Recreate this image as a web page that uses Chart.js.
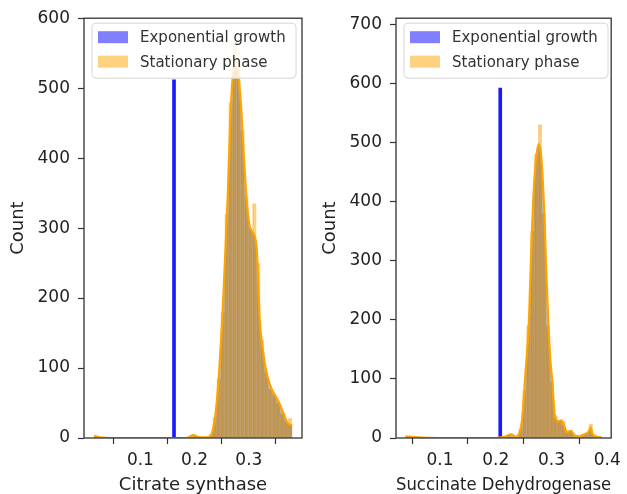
<!DOCTYPE html>
<html>
<head>
<meta charset="utf-8">
<script src="https://cdn.jsdelivr.net/npm/chart.js@4.4.1/dist/chart.umd.min.js"></script>
<style>
  body { margin: 0; background: #fff; }
  #wrap { position: relative; width: 627px; height: 494px; }
  canvas { position: absolute; left: 0; top: 0; }
</style>
</head>
<body>
<div id="wrap">
  <canvas id="citrate" width="627" height="494"></canvas>
  <canvas id="succinate" width="627" height="494"></canvas>
</div>
<script>
// legend entries
const seriesLabels = ['Exponential growth', 'Stationary phase'];

// Citrate synthase (left panel)
const csExpBins = [0.162];
const csExpCounts = [512];
const csStatBins = [0.0182, 0.2007, 0.2299, 0.2372, 0.2445, 0.2518, 0.2591, 0.2664, 0.2737, 0.2810,
                    0.2883, 0.2956, 0.3029, 0.3102, 0.3175, 0.3248, 0.3321, 0.3394, 0.3467, 0.3540,
                    0.3613, 0.3686, 0.3759];
const csStatCounts = [3, 4, 5, 30, 85, 180, 320, 480, 567, 540,
                      440, 345, 300, 335, 250, 140, 95, 70, 62, 50,
                      35, 25, 28];
const csKdeX = [0.0145, 0.025, 0.05, 0.10, 0.15, 0.185, 0.197, 0.21, 0.225, 0.233, 0.240, 0.246,
                0.251, 0.256, 0.261, 0.266, 0.271, 0.276, 0.281, 0.286, 0.291, 0.296, 0.301,
                0.306, 0.311, 0.315, 0.320, 0.326, 0.333, 0.341, 0.349, 0.356, 0.364, 0.371, 0.380];
const csKdeY = [3, 1, 0, 0, 0, 0, 4, 1, 1, 10, 45, 105,
                170, 255, 345, 460, 520, 530, 515, 470, 400, 340, 305,
                295, 288, 265, 170, 125, 92, 72, 60, 50, 35, 22, 18];
const csXTicks = [0.1, 0.2, 0.3];
const csYTicks = [0, 100, 200, 300, 400, 500, 600];

// Succinate Dehydrogenase (right panel)
const sdhExpBins = [0.208];
const sdhExpCounts = [592];
const sdhStatBins = [0.0415, 0.2235, 0.2445, 0.2515, 0.2585, 0.2655, 0.2725, 0.2795, 0.2865, 0.2935,
                     0.3005, 0.3075, 0.3145, 0.3215, 0.3285, 0.3355, 0.3425, 0.3495, 0.3565, 0.3635,
                     0.3705, 0.3775, 0.3845];
const sdhStatCounts = [3, 5, 15, 80, 190, 350, 480, 530, 380, 190,
                       95, 38, 30, 28, 12, 12, 4, 3, 6, 10,
                       24, 5, 2];
const sdhKdeX = [0.038, 0.06, 0.10, 0.15, 0.20, 0.215, 0.228, 0.236, 0.242, 0.247, 0.2525, 0.2595,
                 0.263, 0.267, 0.272, 0.277, 0.282, 0.287, 0.291, 0.294, 0.298, 0.301, 0.306,
                 0.312, 0.318, 0.322, 0.328, 0.335, 0.342, 0.350, 0.358, 0.366, 0.370, 0.374, 0.382, 0.39];
const sdhKdeY = [3, 1, 0, 0, 0, 2, 6, 2, 8, 30, 100, 200,
                 300, 400, 470, 497, 470, 380, 270, 200, 130, 100, 38,
                 28, 30, 22, 10, 12, 4, 3, 6, 10, 18, 6, 2, 1];
const sdhXTicks = [0.1, 0.2, 0.3, 0.4];
const sdhYTicks = [0, 100, 200, 300, 400, 500, 600, 700];

const FONT = 'DejaVu Sans';
const INK = '#222';

function pairs(xs, ys) {
    return xs.map((x, i) => ({ x: x, y: ys[i] }));
}

// axes frame like matplotlib spines
const framePlugin = {
    id: 'frame',
    afterDatasetsDraw(chart) {
        const a = chart.chartArea;
        const c = chart.ctx;
        c.save();
        c.strokeStyle = '#333';
        c.lineWidth = 1.3;
        c.strokeRect(a.left, a.top, a.right - a.left, a.bottom - a.top);
        c.restore();
    }
};

// legend drawn inside the axes, upper left
const boxLegend = {
    id: 'boxLegend',
    afterDraw(chart) {
        const a = chart.chartArea;
        const c = chart.ctx;
        const x = a.left + 8, y = a.top + 5, w = 204, h = 55;
        c.save();
        c.beginPath();
        c.roundRect(x, y, w, h, 4);
        c.fillStyle = 'rgba(255,255,255,0.8)';
        c.fill();
        c.strokeStyle = '#d6d6d6';
        c.lineWidth = 1;
        c.stroke();
        const patches = ['rgba(128,128,255,1)', 'rgba(255,210,127,1)'];
        c.font = '15px "' + FONT + '"';
        c.textBaseline = 'middle';
        seriesLabels.forEach((lab, i) => {
            const cy = y + 14 + i * 24.5;
            c.fillStyle = patches[i];
            c.fillRect(x + 6, cy - 6, 30, 12);
            c.fillStyle = '#333';
            c.fillText(lab, x + 48, cy + 1);
        });
        c.restore();
    }
};

// shades the area under the kde curve once all bars are down, then the line goes on top
const kdeShade = {
    id: 'kdeShade',
    beforeDatasetsDraw(chart) {
        chart.$shaded = false;
    },
    beforeDatasetDraw(chart, args) {
        if (chart.$shaded || chart.data.datasets[args.index].type !== 'line') return;
        chart.$shaded = true;
        const pts = args.meta.data;
        const a = chart.chartArea;
        const base = chart.scales.y.getPixelForValue(0);
        const c = chart.ctx;
        c.save();
        c.beginPath();
        c.rect(a.left, a.top, a.right - a.left, a.bottom - a.top);
        c.clip();
        c.beginPath();
        c.moveTo(pts[0].x, base);
        for (const p of pts) c.lineTo(p.x, p.y);
        c.lineTo(pts[pts.length - 1].x, base);
        c.closePath();
        c.fillStyle = 'rgba(100,68,25,0.4)';
        c.fill();
        c.restore();
    }
};

function histChart(id, o) {
    return new Chart(document.getElementById(id), {
        type: 'bar',
        data: {
            datasets: [
                {
                    label: seriesLabels[0],
                    data: pairs(o.expBins, o.expCounts),
                    backgroundColor: '#1a1aff',
                    barThickness: 3,
                    grouped: false,
                    order: 2
                },
                {
                    label: seriesLabels[1],
                    data: pairs(o.statBins, o.statCounts),
                    backgroundColor: 'rgba(255,170,20,0.55)',
                    borderColor: 'rgba(255,214,150,0.9)',
                    borderWidth: { left: 1, top: 1, right: 0, bottom: 0 },
                    borderSkipped: false,
                    barPercentage: 1,
                    categoryPercentage: 1,
                    grouped: false,
                    order: 3
                },
                {
                    type: 'line',
                    label: 'kde',
                    data: pairs(o.kdeX, o.kdeY),
                    borderColor: '#ffa500',
                    borderWidth: 2.2,
                    fill: false,
                    pointRadius: 0,
                    cubicInterpolationMode: 'monotone',
                    order: 1
                }
            ]
        },
        options: {
            responsive: false,
            animation: false,
            devicePixelRatio: 1,
            layout: { padding: o.padding },
            plugins: { legend: { display: false }, tooltip: { enabled: false } },
            scales: {
                x: {
                    type: 'linear',
                    offset: false,
                    min: o.xMin, max: o.xMax,
                    afterBuildTicks: s => { s.ticks = o.xTicks.map(v => ({ value: v })); },
                    afterFit: s => { s.height = 56; },
                    border: { display: false },
                    grid: { drawOnChartArea: false, drawTicks: true, tickLength: 6, color: '#333', tickWidth: 1.2 },
                    ticks: { color: INK, font: { family: FONT, size: 17 }, padding: 6, maxRotation: 0,
                             callback: v => v.toFixed(1) },
                    title: { display: true, text: o.xTitle, color: INK,
                             font: { family: FONT, size: 18, lineHeight: 1 }, padding: { top: 0, bottom: 0 } }
                },
                y: {
                    min: 0, max: o.yMax,
                    afterBuildTicks: s => { s.ticks = o.yTicks.map(v => ({ value: v })); },
                    afterFit: s => { s.width = 77; },
                    border: { display: false },
                    grid: { drawOnChartArea: false, drawTicks: true, tickLength: 6, color: '#333', tickWidth: 1.2 },
                    ticks: { color: INK, font: { family: FONT, size: 17 }, padding: 8 },
                    title: { display: true, text: 'Count', color: INK,
                             font: { family: FONT, size: 18, lineHeight: 1 }, padding: { top: 2, bottom: 0 } }
                }
            }
        },
        plugins: [kdeShade, framePlugin, boxLegend]
    });
}

histChart('citrate', {
    expBins: csExpBins, expCounts: csExpCounts,
    statBins: csStatBins, statCounts: csStatCounts,
    kdeX: csKdeX, kdeY: csKdeY,
    xTicks: csXTicks, yTicks: csYTicks,
    xMin: -0.004, xMax: 0.398, yMax: 600,
    xTitle: 'Citrate synthase',
    padding: { left: 7, right: 325, top: 14, bottom: 0 }
});

histChart('succinate', {
    expBins: sdhExpBins, expCounts: sdhExpCounts,
    statBins: sdhStatBins, statCounts: sdhStatCounts,
    kdeX: sdhKdeX, kdeY: sdhKdeY,
    xTicks: sdhXTicks, yTicks: sdhYTicks,
    xMin: 0.021, xMax: 0.407, yMax: 710,
    xTitle: 'Succinate Dehydrogenase',
    padding: { left: 319, right: 11, top: 14, bottom: 0 }
});
</script>
</body>
</html>
